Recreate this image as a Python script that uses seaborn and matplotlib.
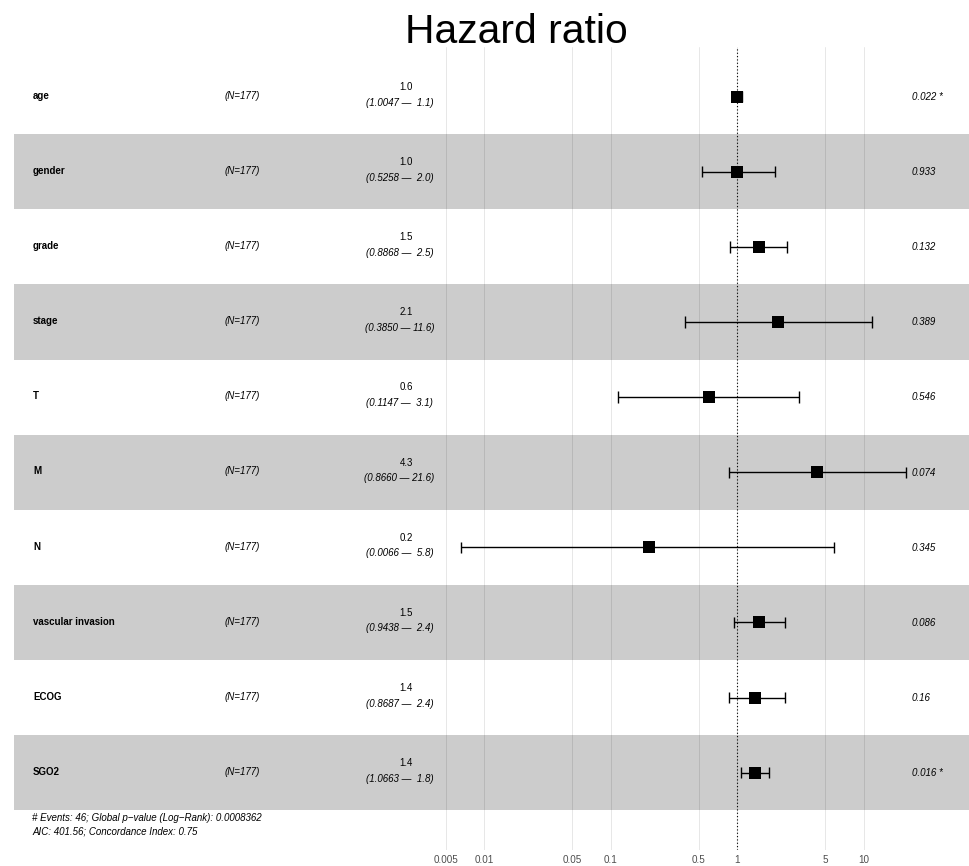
import matplotlib
matplotlib.use("Agg")
import matplotlib.pyplot as plt
import matplotlib.transforms as mtransforms
import numpy as np
import pandas as pd
import seaborn as sns

# ---- model summary ----
variables = ["age", "gender", "grade", "stage", "T", "M", "N",
             "vascular invasion", "ECOG", "SGO2"]
n_labels = ["(N=177)"] * 10
hazard_ratio = [1.0, 1.0, 1.5, 2.1, 0.6, 4.3, 0.2, 1.5, 1.4, 1.4]
ci_low = [1.0047, 0.5258, 0.8868, 0.3850, 0.1147, 0.8660, 0.0066, 0.9438, 0.8687, 1.0663]
ci_high = [1.1, 2.0, 2.5, 11.6, 3.1, 21.6, 5.8, 2.4, 2.4, 1.8]
p_labels = ["0.022 *", "0.933", "0.132", "0.389", "0.546", "0.074",
            "0.345", "0.086", "0.16", "0.016 *"]
tick_values = [0.005, 0.01, 0.05, 0.1, 0.5, 1, 5, 10]
tick_labels = ["0.005", "0.01", "0.05", "0.1", "0.5", "1", "5", "10"]
footer_lines = ["# Events: 46; Global p\u2212value (Log\u2212Rank): 0.0008362",
                "AIC: 401.56; Concordance Index: 0.75"]
title = "Hazard ratio"

df = pd.DataFrame({
    "var": variables,
    "n": n_labels,
    "hr": hazard_ratio,
    "lo": ci_low,
    "hi": ci_high,
    "p": p_labels,
})
df["row"] = np.arange(len(df))
df["est_label"] = [f"{v:.1f}" for v in df["hr"]]
df["ci_label"] = [f"({lo:.4f} \u2014 {hi:4.1f})" for lo, hi in zip(df["lo"], df["hi"])]

sns.set_theme(style="white")
plt.rcParams["font.family"] = ["Liberation Sans", "DejaVu Sans"]

# ---- canvas / panel geometry (pixels) ----
W, H = 969, 866
fig = plt.figure(figsize=(W / 100, H / 100), dpi=100)
left_px, right_px, top_px, bottom_px = 14, 969, 47, 850
ax = fig.add_axes([left_px / W, 1 - bottom_px / H,
                   (right_px - left_px) / W, (bottom_px - top_px) / H])

one_px, px_per_decade = 737.0, 126.5
row0_px, row_h = 96.7, 75.1
ax.set_xscale("log")
ax.set_xlim(10 ** ((left_px - one_px) / px_per_decade),
            10 ** ((right_px - one_px) / px_per_decade))
ax.set_ylim((bottom_px - row0_px) / row_h, (top_px - row0_px) / row_h)

# grid under the row bands
ax.set_axisbelow(True)
ax.set_xticks(tick_values, tick_labels)
ax.minorticks_off()
ax.grid(axis="x", which="major", color="#E3E3E3", linewidth=0.6)
ax.grid(axis="y", visible=False)
ax.set_yticks([])
for s in ax.spines.values():
    s.set_visible(False)
ax.tick_params(axis="x", length=2.2, width=0.5, color="#C8C8C8",
               labelsize=7.1, labelcolor="#4D4D4D", pad=1.5)

# alternating bands
for r in df["row"]:
    if r % 2 == 1:
        ax.axhspan(r - 0.5, r + 0.5, color="black", alpha=0.2, lw=0, zorder=1)

# reference line at HR = 1
ax.axvline(1, color="black", lw=0.8, ls=(0, (1, 2)), zorder=2)

# confidence intervals (whisker + end caps) and point estimates
cap = 0.075
ax.hlines(df["row"], df["lo"], df["hi"], color="black", lw=1.0, zorder=3)
ax.vlines(df["lo"], df["row"] - cap, df["row"] + cap, color="black", lw=1.0, zorder=3)
ax.vlines(df["hi"], df["row"] - cap, df["row"] + cap, color="black", lw=1.0, zorder=3)
sns.scatterplot(data=df, x="hr", y="row", marker="s", s=69, color="black",
                linewidth=0, zorder=4, legend=False, ax=ax)
ax.set_xlabel("")
ax.set_ylabel("")

# annotation columns
trans = mtransforms.blended_transform_factory(ax.transAxes, ax.transData)
fs = 7.0
def ax_x(px):
    return (px - left_px) / (right_px - left_px)

for _, r in df.iterrows():
    y = r["row"]
    ax.text(ax_x(33), y + 0.03, r["var"], transform=trans, ha="left",
            va="baseline", fontsize=fs, fontweight="bold", color="black")
    ax.text(ax_x(224.5), y + 0.03, r["n"], transform=trans, ha="left",
            va="baseline", fontsize=fs, style="italic", color="black")
    ax.text(ax_x(406), y - 0.088, r["est_label"], transform=trans, ha="center",
            va="baseline", fontsize=fs, color="black")
    ax.text(ax_x(399.5), y + 0.12, r["ci_label"], transform=trans, ha="center",
            va="baseline", fontsize=fs, style="italic", color="black")
    ax.text(ax_x(912), y + 0.045, r["p"], transform=trans, ha="left",
            va="baseline", fontsize=fs, style="italic", color="black")

for line, yb in zip(footer_lines, [9.640, 9.827]):
    ax.text(ax_x(32), yb, line, transform=trans, ha="left", va="baseline",
            fontsize=fs, style="italic", color="black")

fig.text(516.5 / W, 1 - 43.3 / H, title, ha="center", va="baseline",
         fontsize=29.4, color="black")

fig.savefig("out.png", dpi=100)
